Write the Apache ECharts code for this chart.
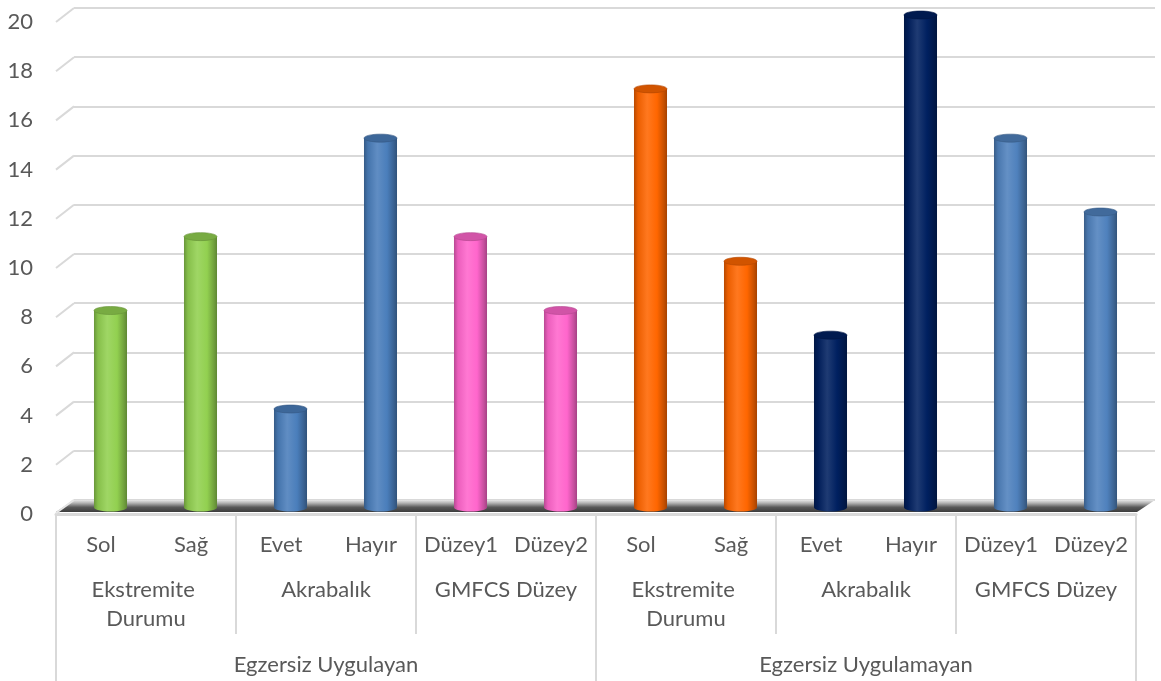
<!DOCTYPE html>
<html>
<head>
<meta charset="utf-8">
<script src="https://cdn.jsdelivr.net/npm/echarts@6/dist/echarts.min.js"></script>
<style>
  html, body { margin: 0; padding: 0; background: #ffffff; }
  #chart { width: 1161px; height: 681px; }
</style>
</head>
<body>
<div id="chart"></div>
<script>
// Leaf categories, their groups and the two outer blocks
const leafLabels = ['Sol', 'Sağ', 'Evet', 'Hayır', 'Düzey1', 'Düzey2',
                    'Sol', 'Sağ', 'Evet', 'Hayır', 'Düzey1', 'Düzey2'];
const groupLabels = ['Ekstremite Durumu', 'Akrabalık', 'GMFCS Düzey',
                     'Ekstremite Durumu', 'Akrabalık', 'GMFCS Düzey'];
const outerLabels = ['Egzersiz Uygulayan', 'Egzersiz Uygulamayan'];
const values = [8, 11, 4, 15, 11, 8, 17, 10, 7, 20, 15, 12];
const yTicks = [0, 2, 4, 6, 8, 10, 12, 14, 16, 18, 20];

// Fill colour of each cylinder
const barColors = ['#92d050', '#92d050', '#4a7ebb', '#4a7ebb', '#ff66cc', '#ff66cc',
                   '#ff6600', '#ff6600', '#002060', '#002060', '#4f81bd', '#4f81bd'];

const TEXT = '#595959';
const LINE = '#d9d9d9';
const FONT = 'Lato';
const FS = 22;
const DEPTH = [18, -14];   // perspective offset from front plane to back wall

function mix(hex, target, t) {
  const a = parseInt(hex.slice(1), 16);
  const r = (a >> 16) & 255, g = (a >> 8) & 255, b = a & 255;
  const m = (c) => Math.round(c + (target - c) * t);
  return 'rgb(' + m(r) + ',' + m(g) + ',' + m(b) + ')';
}
function cylinderFill(c) {
  return new echarts.graphic.LinearGradient(0, 0, 1, 0, [
    { offset: 0, color: mix(c, 0, 0.28) },
    { offset: 0.12, color: mix(c, 0, 0.08) },
    { offset: 0.4, color: mix(c, 255, 0.12) },
    { offset: 0.7, color: c },
    { offset: 0.9, color: mix(c, 0, 0.22) },
    { offset: 1, color: mix(c, 0, 0.35) }
  ]);
}

const chart = echarts.init(document.getElementById('chart'), null, { renderer: 'canvas' });

const option = {
  backgroundColor: '#ffffff',
  animation: false,
  grid: [
    { left: 56 + DEPTH[0], top: 22 + DEPTH[1], width: 1081, height: 492 }, // back wall
    { left: 56, top: 22, width: 1080, height: 492 },                        // front plane
    { left: 65.5, top: 15, width: 1080, height: 492.5 }                     // cylinders
  ],
  xAxis: [
    { gridIndex: 0, type: 'category', data: leafLabels, show: false },
    {
      gridIndex: 1, type: 'category', data: leafLabels, position: 'bottom',
      axisLine: { show: true, lineStyle: { color: LINE, width: 3 } },
      axisTick: { show: false },
      axisLabel: { interval: 0, margin: 18, color: TEXT, fontFamily: FONT, fontSize: FS, lineHeight: 26 }
    },
    {
      gridIndex: 1, type: 'category', data: groupLabels, position: 'bottom',
      axisLine: { show: false },
      axisTick: { show: true, length: 120, lineStyle: { color: LINE, width: 2 } },
      axisLabel: {
        interval: 0, margin: 61, color: TEXT, fontFamily: FONT, fontSize: FS, lineHeight: 29,
        width: 160, overflow: 'break'
      }
    },
    {
      gridIndex: 1, type: 'category', data: outerLabels, position: 'bottom',
      axisLine: { show: false },
      axisTick: { show: true, length: 170, lineStyle: { color: LINE, width: 2 } },
      axisLabel: { interval: 0, margin: 138, color: TEXT, fontFamily: FONT, fontSize: FS, lineHeight: 26 }
    },
    { gridIndex: 2, type: 'category', data: leafLabels, show: false }
  ],
  yAxis: [
    {
      gridIndex: 0, type: 'value', min: 0, max: 20, interval: 2,
      axisLine: { show: false }, axisTick: { show: false }, axisLabel: { show: false },
      splitLine: { show: true, lineStyle: { color: LINE, width: 2 } }
    },
    {
      gridIndex: 1, type: 'value', min: 0, max: 20, interval: 2,
      axisLine: { show: false }, axisTick: { show: false },
      splitLine: { show: false },
      axisLabel: { margin: 23, color: TEXT, fontFamily: FONT, fontSize: FS }
    },
    { gridIndex: 2, type: 'value', min: 0, max: 20, show: false, splitLine: { show: false } }
  ],
  series: [
    {
      // diagonal side-wall lines joining each label to its back gridline
      type: 'custom', xAxisIndex: 1, yAxisIndex: 1, silent: true,
      data: yTicks.map((v) => [0, v]),
      renderItem: function (params, api) {
        const x0 = params.coordSys.x;
        const y = api.coord([0, api.value(1)])[1];
        return {
          type: 'line',
          shape: { x1: x0, y1: y, x2: x0 + DEPTH[0], y2: y + DEPTH[1] },
          style: { stroke: LINE, lineWidth: 2 }
        };
      }
    },
    {
      // floor slab
      type: 'custom', xAxisIndex: 1, yAxisIndex: 1, silent: true,
      data: [[0, 0]],
      renderItem: function (params, api) {
        const cs = params.coordSys;
        const y = api.coord([0, 0])[1];
        const x0 = cs.x, x1 = cs.x + cs.width;
        return {
          type: 'group',
          children: [
            {
              type: 'polygon',
              shape: { points: [[x0, y - 2], [x0 + DEPTH[0], y + DEPTH[1]], [x1 + DEPTH[0] + 1, y + DEPTH[1]], [x1 + 1, y - 2]] },
              style: {
                fill: new echarts.graphic.LinearGradient(0, 0, 0, 1, [
                  { offset: 0, color: '#e8e8e8' },
                  { offset: 0.25, color: '#b5b5b5' },
                  { offset: 0.6, color: '#5a5a5a' },
                  { offset: 1, color: '#3c3c3c' }
                ])
              }
            },
            {
              type: 'line',
              shape: { x1: x0, y1: y - 1, x2: x0 + DEPTH[0], y2: y + DEPTH[1] },
              style: { stroke: '#e6e6e6', lineWidth: 2 }
            }
          ]
        };
      }
    },
    {
      // cylinders
      type: 'custom', xAxisIndex: 4, yAxisIndex: 2,
      data: values.map((v, i) => [i, v]),
      renderItem: function (params, api) {
        const i = api.value(0);
        const top = api.coord([i, api.value(1)]);
        const base = api.coord([i, 0]);
        const w = api.size([1, 0])[0] * 0.367;
        const ry = 4;
        const c = barColors[i];
        const fill = cylinderFill(c);
        return {
          type: 'group',
          children: [
            {
              type: 'ellipse',
              shape: { cx: top[0], cy: base[1], rx: w / 2, ry: ry },
              style: { fill: fill }
            },
            {
              type: 'rect',
              shape: { x: top[0] - w / 2, y: top[1], width: w, height: base[1] - top[1] },
              style: { fill: fill }
            },
            {
              type: 'ellipse',
              shape: { cx: top[0], cy: top[1], rx: w / 2, ry: ry },
              style: { fill: mix(c, 0, 0.18), stroke: mix(c, 0, 0.3), lineWidth: 0.6 }
            }
          ]
        };
      }
    }
  ]
};

chart.setOption(option);
</script>
</body>
</html>
